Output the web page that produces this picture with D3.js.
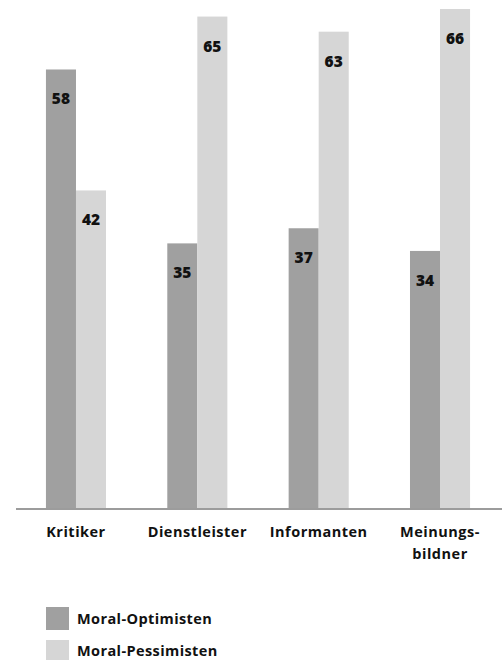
<!DOCTYPE html>
<html><head><meta charset="utf-8">
<script src="https://cdn.jsdelivr.net/npm/d3@7"></script>
<style>body{margin:0;background:#fff}svg{display:block}text{font-family:"Open Sans",Lato,sans-serif;font-weight:700;fill:#111}</style>
</head><body>
<script>
const categories = [["Kritiker"],["Dienstleister"],["Informanten"],["Meinungs-","bildner"]];
const seriesNames = ["Moral-Optimisten","Moral-Pessimisten"];
const optimisten = [58,35,37,34];
const pessimisten = [42,65,63,66];
const colors = ["#a0a0a0","#d6d6d6"];

const W=502,H=660;
const svg=d3.select("body").append("svg").attr("width",W).attr("height",H);
const keys=categories.map(c=>c.join(""));
const x=d3.scaleBand().domain(keys).range([15.3,500.7]).paddingInner(0.505).paddingOuter(0.2525);
const xs=d3.scaleBand().domain([0,1]).range([0,x.bandwidth()]);
const y=d3.scaleLinear().domain([0,66]).range([508,9]);
const series=[optimisten,pessimisten];

keys.forEach((k,i)=>{
  series.forEach((s,j)=>{
    const g=svg.append("g");
    g.append("rect").attr("x",x(k)+xs(j)).attr("width",xs.bandwidth())
      .attr("y",y(s[i])).attr("height",y(0)-y(s[i])).attr("fill",colors[j]);
    g.append("text").attr("x",x(k)+xs(j)+xs.bandwidth()/2).attr("y",y(s[i])+35)
      .attr("text-anchor","middle").style("font-size","15.5px").style("font-weight","800").text(s[i]);
  });
});

svg.append("line").attr("x1",16).attr("x2",502).attr("y1",509).attr("y2",509)
  .attr("stroke","#9c9c9c").attr("stroke-width",2);

categories.forEach((c,i)=>{
  const t=svg.append("text").attr("x",x(keys[i])+x.bandwidth()/2).attr("y",537)
    .attr("text-anchor","middle").style("font-size","14.5px").style("letter-spacing","0.5px");
  c.forEach((line,l)=>t.append("tspan").attr("x",x(keys[i])+x.bandwidth()/2).attr("dy",l?22:0).text(line));
});

seriesNames.forEach((n,i)=>{
  svg.append("rect").attr("x",46).attr("y",607+i*33).attr("width",23).attr("height",23).attr("fill",colors[i]);
  svg.append("text").attr("x",77).attr("y",624+i*32).style("font-size","14.5px").style("letter-spacing","0.4px").text(n);
});
</script>
</body></html>
